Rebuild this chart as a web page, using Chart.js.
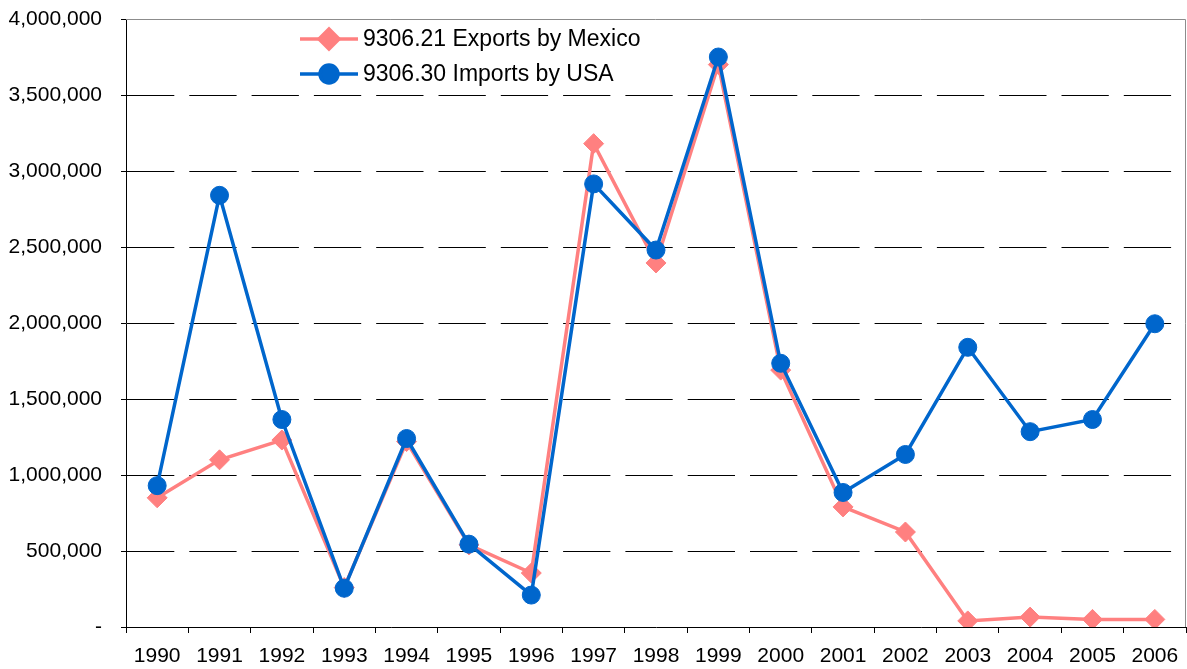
<!DOCTYPE html>
<html>
<head>
<meta charset="utf-8">
<script src="https://cdn.jsdelivr.net/npm/chart.js@4"></script>
<style>
  html, body { margin: 0; padding: 0; background: #fff; }
  #wrap { width: 1187px; height: 669px; }
</style>
</head>
<body>
<div id="wrap"><canvas id="chart" width="1187" height="669"></canvas></div>
<script>
const years = ["1990", "1991", "1992", "1993", "1994", "1995", "1996", "1997", "1998",
  "1999", "2000", "2001", "2002", "2003", "2004", "2005", "2006"];

const exportsMexico = [850000, 1100000, 1230000, 260000, 1220000, 540000, 355000, 3180000, 2395000,
  3700000, 1690000, 790000, 625000, 40000, 65000, 50000, 50000];

const importsUSA = [930000, 2840000, 1365000, 255000, 1240000, 545000, 210000, 2915000, 2480000,
  3750000, 1735000, 885000, 1135000, 1840000, 1285000, 1365000, 1995000];

const yTicks = [0, 500000, 1000000, 1500000, 2000000, 2500000, 3000000, 3500000, 4000000];

const FONT = "'Liberation Sans', Arial, sans-serif";

// рамка сверху и справа + легенда внутри графика
const framePlugin = {
  id: "frame",
  afterDraw(chart) {
    const { ctx, chartArea } = chart;
    ctx.save();
    ctx.strokeStyle = "#8c8c8c";
    ctx.lineWidth = 1;
    ctx.beginPath();
    ctx.moveTo(chartArea.left, chartArea.top + 0.5);
    ctx.lineTo(chartArea.right - 0.5, chartArea.top + 0.5);
    ctx.lineTo(chartArea.right - 0.5, chartArea.bottom);
    ctx.stroke();

    chart.data.datasets.forEach((ds, i) => {
      const y = 39 + i * 35;
      ctx.strokeStyle = ds.borderColor;
      ctx.lineWidth = ds.borderWidth;
      ctx.beginPath();
      ctx.moveTo(300, y);
      ctx.lineTo(358, y);
      ctx.stroke();
      ctx.fillStyle = ds.pointBackgroundColor;
      ctx.strokeStyle = ds.pointBorderColor;
      Chart.helpers.drawPoint(ctx, {
        pointStyle: ds.pointStyle,
        radius: ds.pointRadius,
        borderWidth: ds.pointBorderWidth,
        rotation: 0,
      }, 329, y);
      ctx.fillStyle = "#000";
      ctx.font = "23px " + FONT;
      ctx.textBaseline = "middle";
      ctx.fillText(ds.label, 363, y + 1);
    });
    ctx.restore();
  },
};

new Chart(document.getElementById("chart"), {
  type: "line",
  data: {
    labels: years,
    datasets: [
      {
        label: "9306.21 Exports by Mexico",
        data: exportsMexico,
        borderColor: "#FF8080",
        backgroundColor: "#FF8080",
        pointBackgroundColor: "#FF8080",
        pointBorderColor: "#FF8080",
        pointStyle: "rectRot",
        pointRadius: 10,
        pointBorderWidth: 1,
        borderWidth: 3.5,
        tension: 0,
        order: 1,
      },
      {
        label: "9306.30 Imports by USA",
        data: importsUSA,
        borderColor: "#0066CC",
        backgroundColor: "#0066CC",
        pointBackgroundColor: "#0066CC",
        pointBorderColor: "#0066CC",
        pointStyle: "circle",
        pointRadius: 9,
        pointBorderWidth: 1,
        borderWidth: 3.5,
        tension: 0,
        order: 0,
      },
    ],
  },
  options: {
    responsive: false,
    animation: false,
    layout: { autoPadding: false, padding: { top: 19, right: 1, left: 0, bottom: 0 } },
    plugins: {
      legend: { display: false },
      tooltip: { enabled: false },
    },
    scales: {
      x: {
        offset: true,
        afterFit(scale) {
          scale.height = 42;
          scale.paddingLeft = 0;
          scale.paddingRight = 0;
        },
        grid: {
          offset: true,
          drawOnChartArea: false,
          drawTicks: true,
          tickLength: 6,
          tickColor: "#000",
        },
        border: { color: "#000", width: 1 },
        ticks: {
          color: "#000",
          font: { family: FONT, size: 21 },
          padding: 11,
          maxRotation: 0,
          autoSkip: false,
        },
      },
      y: {
        min: 0,
        max: 4000000,
        afterFit(scale) {
          scale.width = 126;
          scale.paddingTop = 0;
          scale.paddingBottom = 0;
        },
        afterBuildTicks(scale) {
          scale.ticks = yTicks.map((v) => ({ value: v }));
        },
        grid: {
          color: (c) => (c.tick && (c.tick.value === 0 || c.tick.value === 4000000) ? "rgba(0,0,0,0)" : "#000"),
          tickColor: "#000",
          tickLength: 5,
          lineWidth: 1,
        },
        border: { color: "#000", width: 1, dash: [47.3, 15] },
        ticks: {
          color: "#000",
          font: { family: FONT, size: 21 },
          padding: 19,
          callback(value) {
            return value === 0 ? "-" : value.toLocaleString("en-US");
          },
        },
      },
    },
  },
  plugins: [framePlugin],
});
</script>
</body>
</html>
